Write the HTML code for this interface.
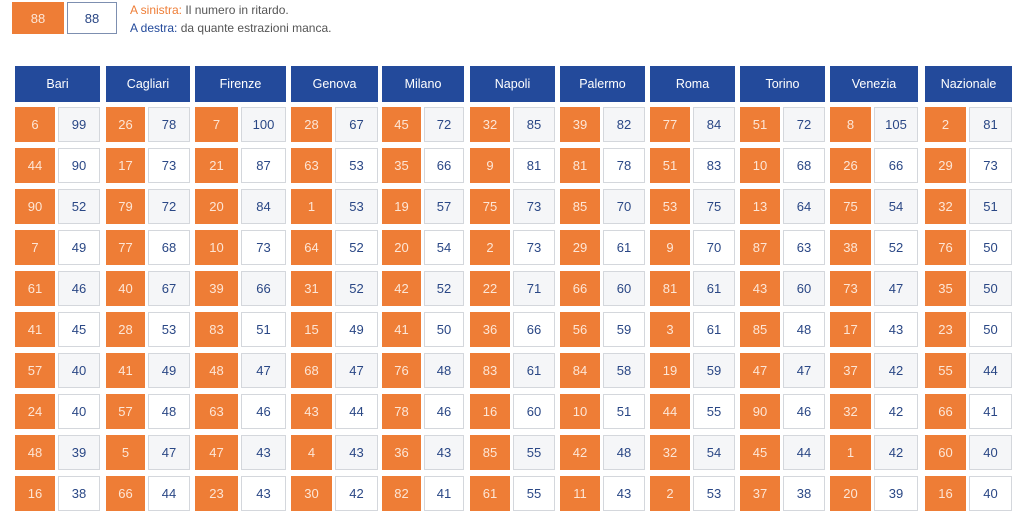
<!DOCTYPE html>
<html><head><meta charset="utf-8"><style>
body{margin:0;width:1024px;height:523px;background:#fff;font-family:"Liberation Sans",sans-serif;position:relative;overflow:hidden}
.abs{position:absolute;box-sizing:border-box;display:flex;align-items:center;justify-content:center}
.hd{background:#234a9b;color:#fff;font-size:12.5px}
.or{background:#ee7d36;color:#fde6d6;font-size:13px}
.wh{border:1px solid #d4d7dc;color:#2a4785;font-size:13px}
.lg{position:absolute;left:130px;font-size:12px}
</style></head><body>
<div class="abs or" style="left:12px;top:2px;width:52px;height:32px">88</div>
<div class="abs wh" style="left:67px;top:2px;width:50px;height:32px;border-color:#7d8fb0">88</div>
<div class="lg" style="top:3px;color:#555"><span style="color:#ee7d36">A sinistra:</span> Il numero in ritardo.</div>
<div class="lg" style="top:21px;color:#555"><span style="color:#234a9b">A destra:</span> da quante estrazioni manca.</div>
<div id="tbl"></div>
<script>
const cities=["Bari","Cagliari","Firenze","Genova","Milano","Napoli","Palermo","Roma","Torino","Venezia","Nazionale"];
const numbers=[
[6,44,90,7,61,41,57,24,48,16],
[26,17,79,77,40,28,41,57,5,66],
[7,21,20,10,39,83,48,63,47,23],
[28,63,1,64,31,15,68,43,4,30],
[45,35,19,20,42,41,76,78,36,82],
[32,9,75,2,22,36,83,16,85,61],
[39,81,85,29,66,56,84,10,42,11],
[77,51,53,9,81,3,19,44,32,2],
[51,10,13,87,43,85,47,90,45,37],
[8,26,75,38,73,17,37,32,1,20],
[2,29,32,76,35,23,55,66,60,16]];
const delays=[
[99,90,52,49,46,45,40,40,39,38],
[78,73,72,68,67,53,49,48,47,44],
[100,87,84,73,66,51,47,46,43,43],
[67,53,53,52,52,49,47,44,43,42],
[72,66,57,54,52,50,48,46,43,41],
[85,81,73,73,71,66,61,60,55,55],
[82,78,70,61,60,59,58,51,48,43],
[84,83,75,70,61,61,59,55,54,53],
[72,68,64,63,60,48,47,46,44,38],
[105,66,54,52,47,43,42,42,42,39],
[81,73,51,50,50,50,44,41,40,40]];
const colL=[15,106,195,291,382,470,560,650,740,830,925];
const colR=[100,190,286,378,464,555,645,735,825,918,1012];
const tbl=document.getElementById('tbl');
function mk(cls,x,y,w,h,t){const d=document.createElement('div');d.className='abs '+cls;d.style.cssText=`left:${x}px;top:${y}px;width:${w}px;height:${h}px`;d.textContent=t;tbl.appendChild(d);return d;}
cities.forEach((c,i)=>{
  const x=colL[i],w=colR[i]-colL[i];
  const h=mk('hd',x,66,w,36,c);
  
  
  const ow=Math.round(w*0.47);
  numbers[i].forEach((n,r)=>{
    const y=107+r*41;
    const o=mk('or',x,y,ow,35,n);
    
    
    const wc=mk('wh',x+ow+3,y,w-ow-3,35,delays[i][r]);
    wc.style.background=r%2==0?'#f5f6f8':'#fff';
    
    
  });
});
</script>
</body></html>
